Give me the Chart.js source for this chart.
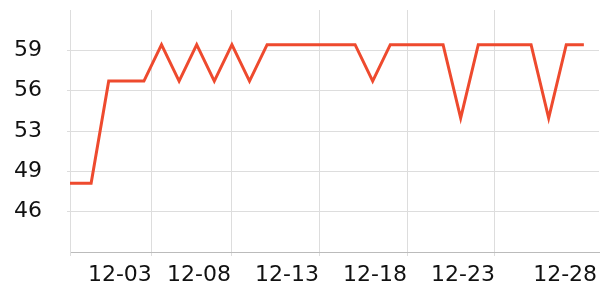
<!DOCTYPE html>
<html>
<head>
<meta charset="utf-8">
<script src="https://cdn.jsdelivr.net/npm/chart.js@4"></script>
<style>
  html, body { margin: 0; padding: 0; background: #fff; }
  #wrap { width: 600px; height: 300px; }
</style>
</head>
<body>
<div id="wrap"><canvas id="canvas"></canvas></div>
<script>
// day offsets from 11-30 (first sample taken a little before 11-29)
const days = [-1.2, 0, 1, 2, 3, 4, 5, 6, 7, 8, 9, 10, 11, 12, 13, 14, 15, 16, 17, 18, 19, 20, 21, 22, 23, 24, 25, 26, 27, 28];
const values = [48.25, 48.25, 56.8, 56.8, 56.8, 59.85, 56.8, 59.85, 56.8, 59.85, 56.8, 59.85, 59.85, 59.85, 59.85, 59.85, 59.85, 56.8, 59.85, 59.85, 59.85, 59.85, 53.7, 59.85, 59.85, 59.85, 59.85, 53.7, 59.85, 59.85];

const xTickValues = [-1.2, 3.45, 7.95, 12.95, 17.95, 22.95, 28.75];
const xTickLabels = ['', '12-03', '12-08', '12-13', '12-18', '12-23', '12-28'];
const yTickValues = [45.875, 49.25, 52.625, 56, 59.375];
const yTickLabels = ['46', '49', '53', '56', '59'];

(function() {
	Chart.defaults.font.family = 'DejaVu Sans';
	Chart.defaults.font.size = 22;
	Chart.defaults.color = '#111';

	var points = days.map(function (d, i) { return { x: d, y: values[i] }; });

	var chart_config = {
		type: 'line',
		data: {
			datasets: [{
				data: points,
				borderColor: '#ee4a2e',
				borderWidth: 3,
				pointRadius: 0,
				tension: 0,
				fill: false
			}]
		},
		options: {
			responsive: false,
			animation: false,
			layout: { padding: { top: 10, right: 1, left: 14, bottom: 0 } },
			plugins: { legend: { display: false }, tooltip: { enabled: false } },
			scales: {
				x: {
					type: 'linear',
					min: -1.2,
					max: 28.86,
					afterBuildTicks: function (axis) {
						axis.ticks = xTickValues.map(function (v) { return { value: v }; });
					},
					afterFit: function (axis) {
						axis.height = 48;
						axis.paddingLeft = 0;
						axis.paddingRight = 0;
					},
					ticks: {
						autoSkip: false,
						maxRotation: 0,
						align: 'end',
						padding: 6,
						callback: function (v, i) { return xTickLabels[i]; }
					},
					grid: {
						color: function (ctx) {
							return ctx.tick && ctx.tick.value === 28.75 ? 'rgba(0,0,0,0)' : '#dddddd';
						},
						tickLength: 4
					},
					border: { color: '#bbbbbb', width: 1 }
				},
				y: {
					min: 42.5,
					max: 62.75,
					afterBuildTicks: function (axis) {
						axis.ticks = yTickValues.map(function (v) { return { value: v }; });
					},
					afterFit: function (axis) {
						axis.width = 56;
						axis.paddingTop = 0;
						axis.paddingBottom = 0;
					},
					ticks: {
						crossAlign: 'far',
						callback: function (v, i) { return yTickLabels[i]; }
					},
					grid: { color: '#dddddd', tickLength: 3 },
					border: { color: '#dddddd' }
				}
			}
		}
	};

	var canvas = document.getElementById('canvas');
	canvas.width = 600;
	canvas.height = 300;
	var ctx = canvas.getContext('2d');
	window.myLine = new Chart(ctx, chart_config);
})();
</script>
</body>
</html>
